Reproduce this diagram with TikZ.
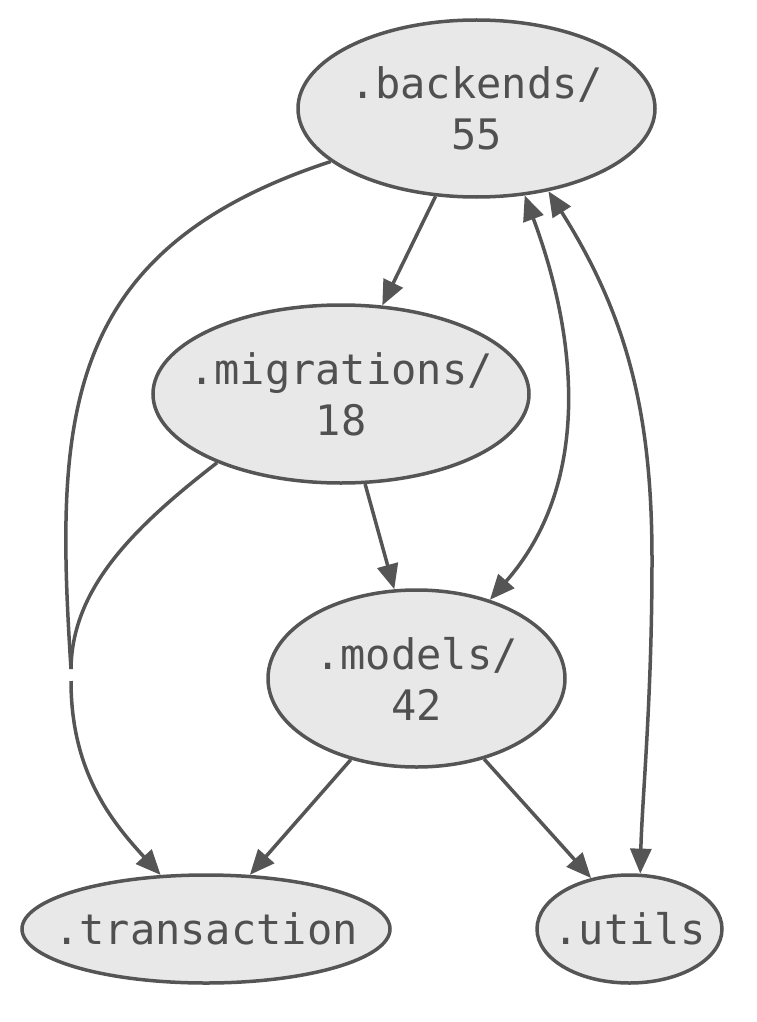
\documentclass[tikz,border=0pt]{standalone}
\usepackage{fontspec}
\setmonofont{DejaVu Sans Mono}
\usetikzlibrary{shapes.geometric,arrows.meta}
\definecolor{edgec}{HTML}{555555}
\definecolor{fillc}{HTML}{E8E8E8}
\definecolor{textc}{HTML}{505050}
\newcommand{\zl}[1]{\makebox[0pt]{#1}}
\begin{document}
\begin{tikzpicture}[x=1pt,y=-1pt,
  pkg/.style={ellipse,draw=edgec,fill=fillc,line width=3.5pt,inner sep=0pt,
    text=textc,align=center,font=\ttfamily\fontsize{42}{51}\selectfont},
  arr/.style={draw=edgec,line width=3.5pt,-{Triangle[length=25pt,width=21pt]}},
  darr/.style={draw=edgec,line width=3.5pt,{Triangle[length=25pt,width=21pt]}-{Triangle[length=25pt,width=21pt]}},
  ln/.style={draw=edgec,line width=3.5pt}]
\useasboundingbox (0,0) rectangle (757,1022);
\node[pkg,minimum width=357pt,minimum height=177pt] (backends) at (476.5,108.5) {\zl{.backends/}\\\zl{55}};
\node[pkg,minimum width=376pt,minimum height=178pt] (migrations) at (341,394) {\zl{.migrations/}\\\zl{18}};
\node[pkg,minimum width=297pt,minimum height=177pt] (models) at (416.5,678.5) {\zl{.models/}\\\zl{42}};
\node[pkg,minimum width=368pt,minimum height=108pt] (transaction) at (206,929) {\zl{.transaction}};
\node[pkg,minimum width=185pt,minimum height=108pt] (utils) at (629.5,929) {\zl{.utils}};
\coordinate (j1) at (71,669);
\coordinate (j2) at (71,681);
% straight edges
\draw[arr] (backends.-115) -- (migrations.65);
\draw[arr] (migrations.-75) -- (models.104);
\draw[arr] (models.-129) -- (transaction.51);
\draw[arr] (models.-50) -- (utils.127);
% bidirectional curves
\draw[darr] (backends.-61) .. controls (575,330) and (595,480) .. (models.47);
\draw[darr] (backends.-49) .. controls (630,320) and (652,420) .. (652,560)
  .. controls (652,700) and (642,800) .. (utils.79);
% concentrated edges to transaction
\draw[ln] (backends.-160) .. controls (60,250) and (55,420) .. (j1);
\draw[ln] (migrations.-151) .. controls (130,530) and (72,590) .. (j1);
\draw[arr] (j2) .. controls (71,770) and (110,820) .. (transaction.130);
\end{tikzpicture}
\end{document}
